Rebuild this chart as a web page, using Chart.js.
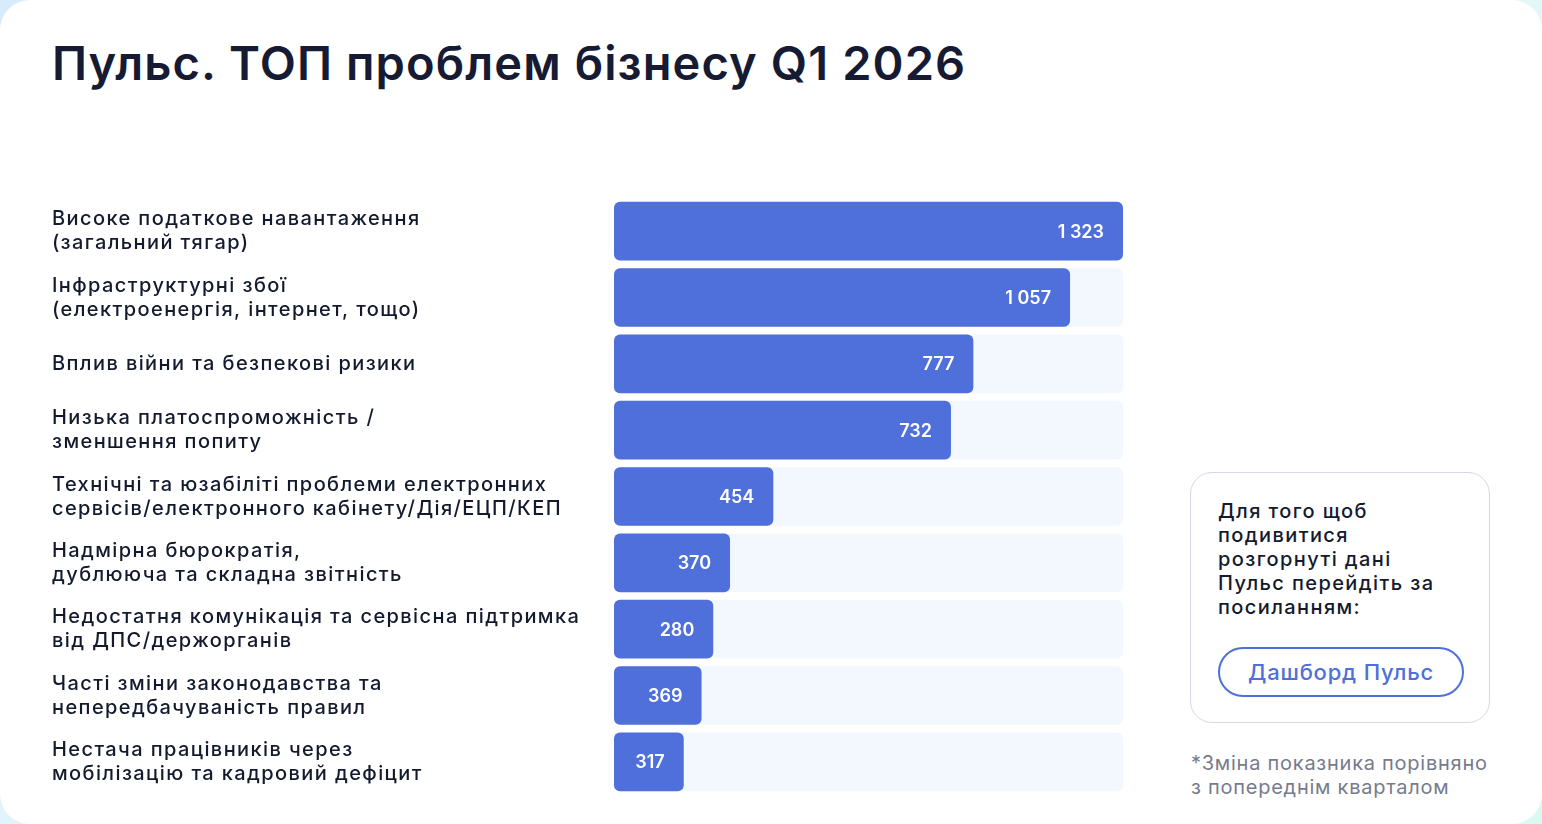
<!DOCTYPE html>
<html lang="uk">
<head>
<meta charset="utf-8">
<title>Пульс. ТОП проблем бізнесу Q1 2026</title>
<script src="https://cdn.jsdelivr.net/npm/chart.js@4.4.1/dist/chart.umd.min.js"></script>
<style>
  html, body { margin: 0; padding: 0; }
  body {
    width: 1542px; height: 824px; overflow: hidden;
    background: linear-gradient(135deg, #d6ebfb 0%, #e6f6fb 50%, #d9faf1 100%);
    font-family: Inter, "Noto Sans", sans-serif;
  }
  .card {
    position: absolute; left: 0; top: 0; width: 1542px; height: 824px;
    background: #fff; border-radius: 30px;
  }
  h1 {
    position: absolute; left: 52px; top: 34px; margin: 0;
    font-size: 47px; font-weight: 600; color: #161b33; letter-spacing: 1.1px;
  }
  #chartBox { position: absolute; left: 0; top: 0; width: 1123px; height: 824px; }
  .info {
    position: absolute; left: 1190px; top: 472px; width: 300px; height: 251px;
    border: 1px solid #d6dae4; border-radius: 22px; box-sizing: border-box;
  }
  .info p {
    position: absolute; left: 27px; top: 26px; margin: 0;
    font-size: 20px; line-height: 24px; font-weight: 500; color: #141a2e;
    letter-spacing: 1.4px;
  }
  .info .btn {
    position: absolute; left: 27px; top: 174px; width: 246px; height: 50px;
    border: 2px solid #4f6fd9; border-radius: 26px; box-sizing: border-box;
    color: #4f6fd9; font-size: 22px; font-weight: 500; letter-spacing: 0.8px;
    display: flex; align-items: center; justify-content: center;
  }
  .note {
    position: absolute; left: 1191px; top: 751px; margin: 0;
    font-size: 20px; line-height: 24px; color: #777b8d; letter-spacing: 0.75px;
  }
</style>
</head>
<body>
<div class="card"></div>
<h1>Пульс. ТОП проблем бізнесу Q1 2026</h1>
<div id="chartBox"><canvas id="topChart"></canvas></div>
<div class="info">
  <p>Для того щоб<br>подивитися<br>розгорнуті дані<br>Пульс перейдіть за<br>посиланням:</p>
  <div class="btn">Дашборд Пульс</div>
</div>
<p class="note">*Зміна показника порівняно<br>з попереднім кварталом</p>

<script>
// categories (each one split into lines as on the picture)
const problems = [
  ['Високе податкове навантаження', '(загальний тягар)'],
  ['Інфраструктурні збої', '(електроенергія, інтернет, тощо)'],
  ['Вплив війни та безпекові ризики'],
  ['Низька платоспроможність /', 'зменшення попиту'],
  ['Технічні та юзабіліті проблеми електронних', 'сервісів/електронного кабінету/Дія/ЕЦП/КЕП'],
  ['Надмірна бюрократія,', 'дублююча та складна звітність'],
  ['Недостатня комунікація та сервісна підтримка', 'від ДПС/держорганів'],
  ['Часті зміни законодавства та', 'непередбачуваність правил'],
  ['Нестача працівників через', 'мобілізацію та кадровий дефіцит']
];

// numbers printed on the bars
const mentions = [1323, 1057, 777, 732, 454, 370, 280, 369, 317];

// bar length as share of the full track (%)
const barShare = [100, 89.6, 70.6, 66.2, 31.3, 22.8, 19.5, 17.2, 13.7];

// the light track behind every bar
const trackFull = [100, 100, 100, 100, 100, 100, 100, 100, 100];

const BLUE = '#4f70da';
const TRACK = '#f3f7fe';

function fmt(n) {
  return String(n).replace(/\B(?=(\d{3})+(?!\d))/g, ' ');
}

// wider tracking for the category labels, like the original typeface
const tracking = {
  id: 'tracking',
  beforeInit(chart) { chart.ctx.letterSpacing = '1.4px'; },
  beforeUpdate(chart) { chart.ctx.letterSpacing = '1.4px'; },
  beforeDraw(chart) { chart.ctx.letterSpacing = '1.4px'; }
};

const valueLabels = {
  id: 'valueLabels',
  afterDatasetsDraw(chart) {
    const ctx = chart.ctx;
    const meta = chart.getDatasetMeta(1);
    ctx.save();
    ctx.letterSpacing = '0px';
    ctx.font = '600 18px Inter, "Noto Sans", sans-serif';
    ctx.fillStyle = '#ffffff';
    ctx.textAlign = 'right';
    ctx.textBaseline = 'middle';
    meta.data.forEach((bar, i) => {
      ctx.fillText(fmt(mentions[i]), bar.x - 19, bar.y + 1);
    });
    ctx.restore();
  }
};

new Chart(document.getElementById('topChart'), {
  type: 'bar',
  data: {
    labels: problems,
    datasets: [
      {
        data: trackFull,
        backgroundColor: TRACK,
        order: 2
      },
      {
        data: barShare,
        backgroundColor: BLUE,
        order: 1
      }
    ]
  },
  options: {
    indexAxis: 'y',
    responsive: true,
    maintainAspectRatio: false,
    animation: false,
    layout: { padding: { left: 52, top: 198, bottom: 29, right: 0 } },
    datasets: {
      bar: {
        grouped: false,
        barPercentage: 1,
        categoryPercentage: 0.885,
        borderRadius: 6,
        borderSkipped: false
      }
    },
    plugins: {
      legend: { display: false },
      tooltip: { enabled: false }
    },
    scales: {
      x: { display: false, min: 0, max: 100 },
      y: {
        grid: { display: false },
        border: { display: false },
        afterFit(scale) { scale.width = 562; },
        ticks: {
          crossAlign: 'far',
          padding: 0,
          color: '#141a2e',
          font: { family: 'Inter, "Noto Sans", sans-serif', size: 20, weight: 500, lineHeight: 1.2 }
        }
      }
    }
  },
  plugins: [tracking, valueLabels]
});
</script>
</body>
</html>
